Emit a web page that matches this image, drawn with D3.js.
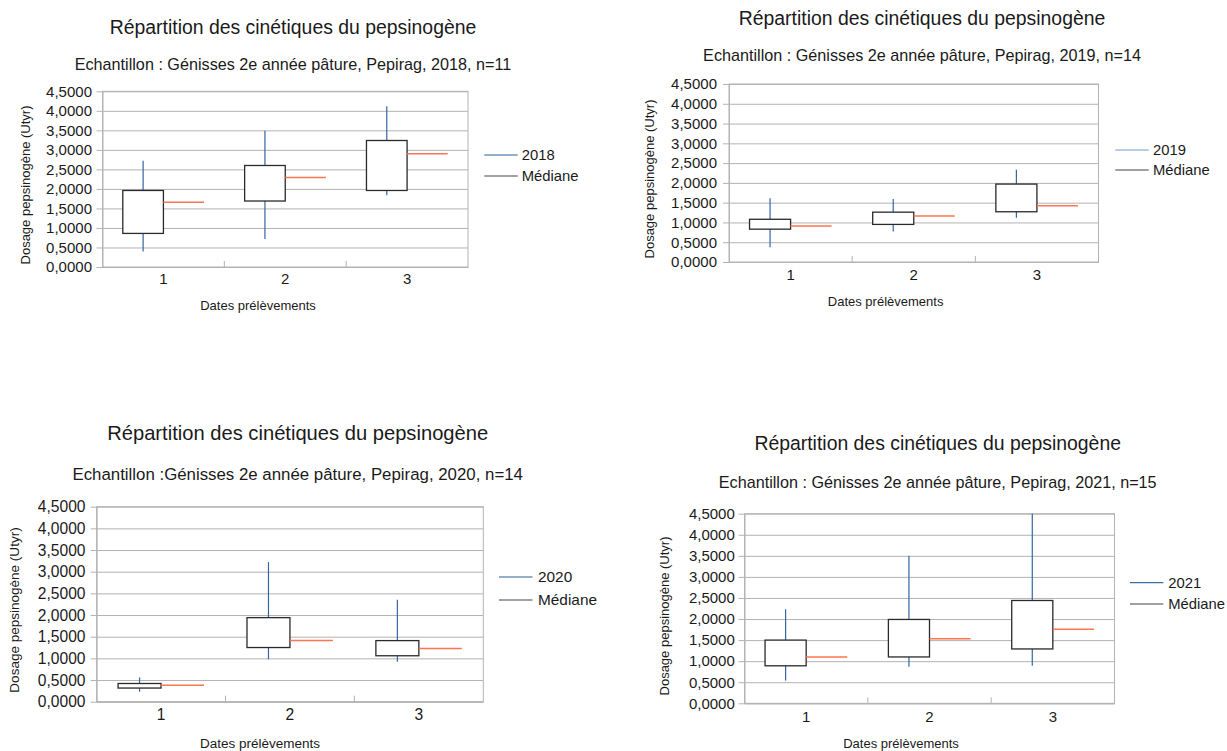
<!DOCTYPE html>
<html><head><meta charset="utf-8">
<script src="https://cdn.jsdelivr.net/npm/d3@7"></script>
<style>
html,body{margin:0;padding:0;background:#fff;}
svg{display:block;font-family:"Liberation Sans",Arial,sans-serif;}
</style></head>
<body>
<svg id="chart" width="1227" height="751"></svg>
<script>
// ---------- data ----------
const categories = ["1", "2", "3"];
const yTickValues = [0, 0.5, 1, 1.5, 2, 2.5, 3, 3.5, 4, 4.5];
const chartTitle = "Répartition des cinétiques du pepsinogène";
const xAxisTitle = "Dates prélèvements";
const yAxisTitle = "Dosage pepsinogène (Utyr)";
const medianLabel = "Médiane";

const years = ["2018", "2019", "2020", "2021"];
const subtitles = [
  "Echantillon : Génisses 2e année pâture, Pepirag, 2018, n=11",
  "Echantillon : Génisses 2e année pâture, Pepirag, 2019, n=14",
  "Echantillon :Génisses 2e année pâture, Pepirag, 2020, n=14",
  "Echantillon : Génisses 2e année pâture, Pepirag, 2021, n=15"
];

// low whisker, box bottom, box top, high whisker, median
const low2018 = [0.40, 0.72, 1.84];
const boxLow2018 = [0.86, 1.69, 1.96];
const boxHigh2018 = [1.96, 2.60, 3.24];
const high2018 = [2.72, 3.49, 4.12];
const median2018 = [1.66, 2.29, 2.90];

const low2019 = [0.37, 0.77, 1.12];
const boxLow2019 = [0.83, 0.95, 1.27];
const boxHigh2019 = [1.08, 1.26, 1.97];
const high2019 = [1.61, 1.59, 2.33];
const median2019 = [0.91, 1.16, 1.42];

const low2020 = [0.23, 0.98, 0.92];
const boxLow2020 = [0.315, 1.25, 1.06];
const boxHigh2020 = [0.42, 1.94, 1.41];
const high2020 = [0.56, 3.22, 2.35];
const median2020 = [0.38, 1.41, 1.23];

const low2021 = [0.54, 0.87, 0.89];
const boxLow2021 = [0.89, 1.10, 1.29];
const boxHigh2021 = [1.50, 1.99, 2.44];
const high2021 = [2.23, 3.50, 4.50];
const median2021 = [1.10, 1.53, 1.76];

const lows = [low2018, low2019, low2020, low2021];
const boxLows = [boxLow2018, boxLow2019, boxLow2020, boxLow2021];
const boxHighs = [boxHigh2018, boxHigh2019, boxHigh2020, boxHigh2021];
const highs = [high2018, high2019, high2020, high2021];
const medians = [median2018, median2019, median2020, median2021];

// ---------- layout (positions only) ----------
const layouts = [
  {left:102.5,right:468,top:91.3,bottom:267,titleX:293,titleY:27,subY:64,tickRight:92,yTitleX:25,yTitleY:185,xTitleX:258,xTitleY:305,catY:279,legX1:484.3,legX2:517.7,legTX:521.7,legY1:155,legY2:176,fs:1,legColor:"#2b5d95"},
  {left:729,right:1098.5,top:84,bottom:262,titleX:922,titleY:18,subY:55,tickRight:717,yTitleX:649,yTitleY:179,xTitleX:885.6,xTitleY:301,catY:275,legX1:1115.3,legX2:1148.7,legTX:1153,legY1:150,legY2:170,fs:1,legColor:"#6c9bd2"},
  {left:96.6,right:483.3,top:506.7,bottom:701.7,titleX:297.7,titleY:433,subY:474,tickRight:85.5,yTitleX:14.7,yTitleY:610,xTitleX:260,xTitleY:743,catY:715,legX1:499,legX2:532.5,legTX:538,legY1:577,legY2:600,fs:1.04,legColor:"#2b5d95"},
  {left:744.5,right:1114.5,top:513.7,bottom:703.3,titleX:937.7,titleY:443,subY:482.7,tickRight:734.8,yTitleX:664.7,yTitleY:616,xTitleX:901,xTitleY:743.5,catY:716.7,legX1:1130,legX2:1163.3,legTX:1168.3,legY1:582.7,legY2:604,fs:1,legColor:"#3a6ea8"}
];

const GRID = "#b3b3b3";
const BLUE = "#3465a4";
const MED = "#ff7452";
const BOX = "#2a2a2a";
const LEGMED = "#444";
const TXT = "#1a1a1a";

const svg = d3.select("#chart");
const fmt = v => d3.format(".4f")(v).replace(".", ",");

years.forEach((yr, p) => {
  const L = layouts[p];
  const g = svg.append("g");
  const w = L.right - L.left, h = L.bottom - L.top;
  const x = d3.scaleBand().domain(categories).range([L.left, L.right]).padding(0);
  const y = d3.scaleLinear().domain([0, 4.5]).range([L.bottom, L.top]);
  const bw = x.bandwidth() / 3;
  const cx = c => x(c) + x.bandwidth() / 2;

  // titles
  g.append("text").attr("x", L.titleX).attr("y", L.titleY).attr("dy", "0.35em")
    .attr("text-anchor", "middle").attr("font-size", 19.4 * L.fs).attr("fill", TXT).text(chartTitle);
  g.append("text").attr("x", L.titleX).attr("y", L.subY).attr("dy", "0.35em")
    .attr("text-anchor", "middle").attr("font-size", 16.2 * L.fs).attr("fill", TXT).text(subtitles[p]);

  // plot border
  g.append("rect").attr("x", L.left).attr("y", L.top).attr("width", w).attr("height", h)
    .attr("fill", "none").attr("stroke", GRID).attr("stroke-width", 1);

  // y axis with gridlines
  const yAxis = d3.axisLeft(y).tickValues(yTickValues).tickFormat(fmt)
    .tickSizeInner(-w).tickSizeOuter(0).tickPadding(0);
  const ya = g.append("g").attr("transform", `translate(${L.left},0)`).call(yAxis);
  ya.select(".domain").attr("stroke", GRID);
  ya.selectAll(".tick line").attr("stroke", GRID).attr("x1", -6);
  ya.selectAll(".tick text").attr("x", L.tickRight - L.left).attr("font-size", 15 * L.fs)
    .attr("fill", TXT).attr("font-family", "Liberation Sans, Arial, sans-serif");

  // x axis
  const xAxis = d3.axisBottom(x).tickSize(0).tickPadding(0);
  const xa = g.append("g").attr("transform", `translate(0,${L.bottom})`).call(xAxis);
  xa.select(".domain").attr("stroke", GRID);
  xa.selectAll(".tick text").attr("y", L.catY - L.bottom).attr("dy", "0.35em")
    .attr("font-size", 15 * L.fs).attr("fill", TXT).attr("font-family", "Liberation Sans, Arial, sans-serif");
  // inner tick marks at category boundaries
  g.selectAll(".sep").data(categories.slice(1)).enter().append("line")
    .attr("x1", d => x(d)).attr("x2", d => x(d))
    .attr("y1", L.bottom).attr("y2", L.bottom - 6).attr("stroke", GRID);

  // whiskers
  g.selectAll(".wh").data(categories).enter().append("line")
    .attr("x1", c => cx(c) - bw / 2).attr("x2", c => cx(c) - bw / 2)
    .attr("y1", (c, i) => y(highs[p][i])).attr("y2", (c, i) => y(lows[p][i]))
    .attr("stroke", BLUE).attr("stroke-width", 1.2);
  // boxes
  g.selectAll(".bx").data(categories).enter().append("rect")
    .attr("x", c => cx(c) - bw).attr("width", bw)
    .attr("y", (c, i) => y(boxHighs[p][i]))
    .attr("height", (c, i) => y(boxLows[p][i]) - y(boxHighs[p][i]))
    .attr("fill", "#fff").attr("stroke", BOX).attr("stroke-width", 1.3);
  // medians
  g.selectAll(".md").data(categories).enter().append("line")
    .attr("x1", c => cx(c)).attr("x2", c => cx(c) + bw)
    .attr("y1", (c, i) => y(medians[p][i])).attr("y2", (c, i) => y(medians[p][i]))
    .attr("stroke", MED).attr("stroke-width", 1.5);

  // axis titles
  g.append("text").attr("x", L.xTitleX).attr("y", L.xTitleY).attr("dy", "0.35em")
    .attr("text-anchor", "middle").attr("font-size", 13 * L.fs).attr("fill", TXT).text(xAxisTitle);
  g.append("text").attr("transform", `translate(${L.yTitleX},${L.yTitleY}) rotate(-90)`).attr("dy", "0.35em")
    .attr("text-anchor", "middle").attr("font-size", 13 * L.fs).attr("fill", TXT).text(yAxisTitle);

  // legend
  const leg = [{label: yr, color: L.legColor, y: L.legY1}, {label: medianLabel, color: LEGMED, y: L.legY2}];
  leg.forEach(d => {
    g.append("line").attr("x1", L.legX1).attr("x2", L.legX2).attr("y1", d.y).attr("y2", d.y)
      .attr("stroke", d.color).attr("stroke-width", 1.2);
    g.append("text").attr("x", L.legTX).attr("y", d.y).attr("dy", "0.35em")
      .attr("font-size", 14.8 * L.fs).attr("fill", TXT).text(d.label);
  });
});
</script>
</body></html>
